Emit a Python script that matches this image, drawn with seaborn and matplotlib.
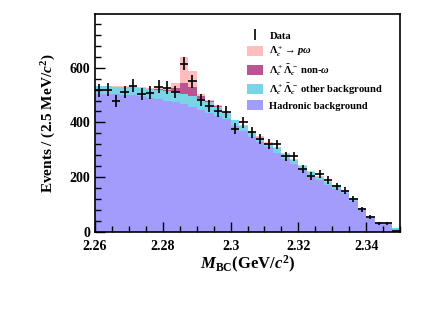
import numpy as np
import pandas as pd
import matplotlib
matplotlib.use("Agg")
import matplotlib.pyplot as plt
import seaborn as sns
from matplotlib.patches import Patch
from matplotlib.ticker import MultipleLocator

# Binning: 2.5 MeV bins from 2.26 to 2.35 GeV
bin_width = 0.0025
n_bins = 36
centers = 2.26 + bin_width * (np.arange(n_bins) + 0.5)

# Values (events per bin)
data = [517, 520, 478, 512, 534, 505, 509, 531, 527, 511, 615, 550, 483, 461, 441, 438,
        377, 401, 363, 338, 322, 319, 275, 275, 228, 204, 212, 188, 166, 150, 118, 81,
        52, 31, 30, 2]
hadronic = [503, 503, 503, 501, 500, 496, 490, 484, 479, 473, 467, 458, 447, 435, 422, 412,
            385, 367, 348, 328, 309, 288, 267, 246, 224, 204, 187, 170, 155, 140, 112, 78,
            50, 32, 27, 10]
other_bkg = [29, 29, 28, 29, 29, 30, 33, 36, 37, 38, 38, 39, 40, 39, 36, 24,
             22, 20, 18, 18, 17, 17, 17, 16, 16, 15, 14, 13, 12, 10, 8, 7,
             6, 4, 3, 4]
non_omega = [0, 0, 0, 0, 0, 0, 0, 2, 4, 14, 40, 33, 10, 3, 1, 0,
             0, 0, 0, 0, 0, 0, 0, 0, 0, 0, 0, 0, 0, 0, 0, 0,
             0, 0, 0, 0]
signal = [3, 3, 3, 3, 3, 3, 3, 4, 6, 20, 94, 57, 8, 5, 3, 3,
          3, 3, 3, 3, 3, 3, 3, 3, 3, 2, 2, 2, 2, 2, 1, 1,
          1, 0, 0, 0]

labels = [r"$\Lambda_c^+\rightarrow p\omega$",
          r"$\Lambda_c^+\bar{\Lambda}_c^-$ non-$\omega$",
          r"$\Lambda_c^+\bar{\Lambda}_c^-$ other background",
          "Hadronic background"]
colors = ["#ffbdbd", "#bb5592", "#78d4e6", "#a29dfc"]

# long table for the stacked histogram
comp_values = [signal, non_omega, other_bkg, hadronic]
df = pd.concat([pd.DataFrame({"mbc": centers, "n": v, "comp": lab})
                for lab, v in zip(labels, comp_values)], ignore_index=True)

plt.rcParams["font.family"] = ["Liberation Serif", "DejaVu Serif"]
plt.rcParams["font.weight"] = "bold"
plt.rcParams["mathtext.fontset"] = "custom"
plt.rcParams["mathtext.rm"] = "Liberation Serif:bold"
plt.rcParams["mathtext.bf"] = "Liberation Serif:bold"
plt.rcParams["mathtext.it"] = "Liberation Serif:italic:bold"

fig = plt.figure(figsize=(4.48, 3.12), dpi=100)
ax = fig.add_axes([0.212, 0.258, 0.681, 0.697])

sns.histplot(data=df, x="mbc", weights="n", hue="comp", hue_order=labels,
             palette=dict(zip(labels, colors)), bins=n_bins, binrange=(2.26, 2.35),
             multiple="stack", element="step", fill=True, alpha=1, linewidth=0,
             legend=False, ax=ax)

# data points
ax.errorbar(centers, data, xerr=bin_width / 2, yerr=np.sqrt(data), fmt="none",
            ecolor="black", elinewidth=1.2, capsize=0, zorder=5)

ax.set_xlim(2.26, 2.35)
ax.set_ylim(0, 797)
ax.xaxis.set_major_locator(MultipleLocator(0.02))
ax.xaxis.set_minor_locator(MultipleLocator(0.005))
ax.yaxis.set_major_locator(MultipleLocator(200))
ax.yaxis.set_minor_locator(MultipleLocator(40))
ax.set_xticks([2.26, 2.28, 2.30, 2.32, 2.34])
ax.set_xticklabels(["2.26", "2.28", "2.3", "2.32", "2.34"])
ax.tick_params(which="both", direction="in", top=False, right=False, labelsize=10, width=1.0)
ax.tick_params(which="major", length=7)
ax.tick_params(which="minor", length=4)
ax.tick_params(axis="x", pad=6)
for lab in ax.get_xticklabels() + ax.get_yticklabels():
    lab.set_fontweight("bold")
for sp in ax.spines.values():
    sp.set_linewidth(1.2)

ax.set_xlabel(r"$M_{\mathrm{BC}}$(GeV/$c^2$)", fontsize=12, fontweight="bold", labelpad=1)
ax.set_ylabel(r"Events / (2.5 MeV/$c^2$)", fontsize=11, fontweight="bold", labelpad=8)

# legend
data_handle = ax.errorbar([], [], yerr=[], fmt="none", ecolor="black", elinewidth=1.2)
handles = [data_handle] + [Patch(facecolor=c, edgecolor="none") for c in colors]
ax.legend(handles, ["Data"] + labels, loc="upper right", bbox_to_anchor=(0.945, 0.925),
          frameon=False, fontsize=7.6, handlelength=1.5, handleheight=1.1,
          labelspacing=0.33, handletextpad=0.6, borderaxespad=0, borderpad=0)

fig.savefig("out.png", dpi=100)
